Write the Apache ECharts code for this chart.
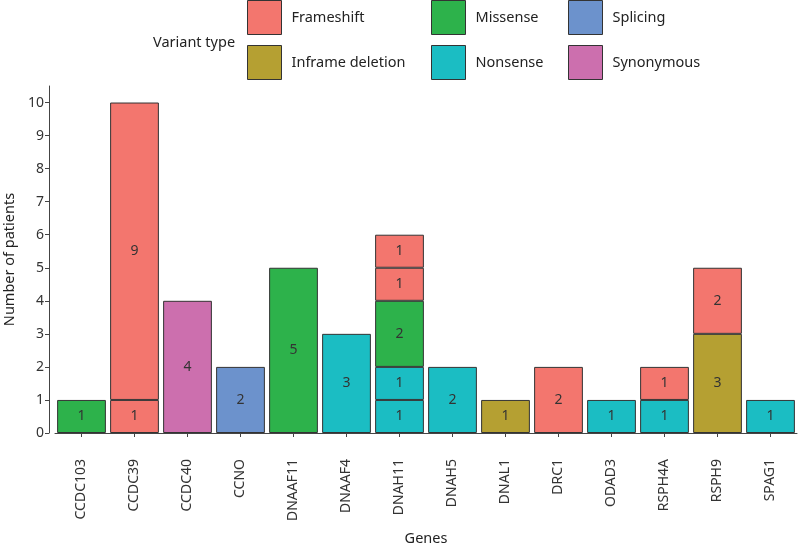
<!DOCTYPE html>
<html>
<head>
<meta charset="utf-8">
<script src="https://cdn.jsdelivr.net/npm/echarts@6/dist/echarts.min.js"></script>
<style>html,body{margin:0;padding:0;background:#fff}#c{width:799px;height:551px}</style>
</head>
<body>
<div id="c"></div>
<script>
const genes = ['CCDC103','CCDC39','CCDC40','CCNO','DNAAF11','DNAAF4','DNAH11','DNAH5','DNAL1','DRC1','ODAD3','RSPH4A','RSPH9','SPAG1'];
const variantTypes = ['Frameshift','Inframe deletion','Missense','Nonsense','Splicing','Synonymous'];
const typeColors = ['#F3766E','#B5A032','#2DB24B','#1BBDC3','#6C92CC','#CC6FAE'];
const yTicks = [0,1,2,3,4,5,6,7,8,9,10];

// stacked segments, bottom to top
const layer1Values = [1,1,4,2,5,3,1,2,1,2,1,1,3,1];
const layer1Types = ['Missense','Frameshift','Synonymous','Splicing','Missense','Nonsense','Nonsense','Nonsense','Inframe deletion','Frameshift','Nonsense','Nonsense','Inframe deletion','Nonsense'];
const layer2Values = [null,9,null,null,null,null,1,null,null,null,null,1,2,null];
const layer2Types = [null,'Frameshift',null,null,null,null,'Nonsense',null,null,null,null,'Frameshift','Frameshift',null];
const layer3Values = [null,null,null,null,null,null,2,null,null,null,null,null,null,null];
const layer3Types = [null,null,null,null,null,null,'Missense',null,null,null,null,null,null,null];
const layer4Values = [null,null,null,null,null,null,1,null,null,null,null,null,null,null];
const layer4Types = [null,null,null,null,null,null,'Frameshift',null,null,null,null,null,null,null];
const layer5Values = [null,null,null,null,null,null,1,null,null,null,null,null,null,null];
const layer5Types = [null,null,null,null,null,null,'Frameshift',null,null,null,null,null,null,null];

const layers = [
  [layer1Values, layer1Types],
  [layer2Values, layer2Types],
  [layer3Values, layer3Types],
  [layer4Values, layer4Types],
  [layer5Values, layer5Types]
];
const colorOf = t => typeColors[variantTypes.indexOf(t)];
const FONT = 'Noto Sans';

const series = [];
layers.forEach((l, i) => {
  series.push({
    name: 'layer' + (i + 1),
    type: 'bar',
    stack: 'v',
    barWidth: '92%',
    data: l[0].map((v, j) => v == null ? '-' : { value: v, itemStyle: { color: colorOf(l[1][j]) } }),
    itemStyle: { borderColor: '#333', borderWidth: 1 },
    label: { show: true, position: 'inside', color: '#333', fontSize: 14, fontFamily: FONT },
    emphasis: { disabled: true }
  });
});
variantTypes.forEach((t, i) => {
  series.push({ name: t, type: 'bar', stack: 'v', data: [], itemStyle: { color: typeColors[i] } });
});

const legendBase = {
  orient: 'vertical', top: 0, padding: 0, itemWidth: 34, itemHeight: 34, itemGap: 10,
  icon: 'rect', selectedMode: false,
  itemStyle: { borderColor: '#333', borderWidth: 1 },
  textStyle: { fontSize: 14.5, color: '#222', fontFamily: FONT, padding: [0, 0, 0, 5] }
};

const chart = echarts.init(document.getElementById('c'), null, { renderer: 'canvas' });
chart.setOption({
  animation: false,
  backgroundColor: '#fff',
  textStyle: { fontFamily: FONT },
  title: { text: 'Variant type', left: 148, top: 30, textStyle: { fontSize: 14.5, fontWeight: 'normal', color: '#222', fontFamily: FONT } },
  legend: [
    Object.assign({}, legendBase, { left: 247, data: ['Frameshift', 'Inframe deletion'] }),
    Object.assign({}, legendBase, { left: 431, data: ['Missense', 'Nonsense'] }),
    Object.assign({}, legendBase, { left: 568, data: ['Splicing', 'Synonymous'] })
  ],
  grid: { left: 55, right: 2, top: 86, bottom: 118, containLabel: false, outerBoundsMode: 'none' },
  xAxis: {
    type: 'category', data: genes, offset: 16,
    name: 'Genes', nameLocation: 'middle', nameGap: 82,
    nameTextStyle: { fontSize: 14.5, color: '#222', fontFamily: FONT },
    axisLine: { show: true, lineStyle: { color: '#444', width: 1 } },
    axisTick: { show: true, alignWithLabel: true, length: 4, lineStyle: { color: '#444' } },
    axisLabel: { rotate: 90, margin: 10, fontSize: 14, color: '#333', fontFamily: FONT }
  },
  yAxis: {
    type: 'value', min: 0, max: 10.5, interval: 1, offset: 6,
    name: 'Number of patients', nameLocation: 'middle', nameGap: 32,
    nameTextStyle: { fontSize: 14.5, color: '#222', fontFamily: FONT },
    axisLine: { show: true, lineStyle: { color: '#444', width: 1 } },
    axisTick: { show: true, length: 4, lineStyle: { color: '#444' }, customValues: yTicks },
    axisLabel: { fontSize: 14, color: '#333', margin: 5, fontFamily: FONT, customValues: yTicks },
    splitLine: { show: false }
  },
  series: series
});
</script>
</body>
</html>
